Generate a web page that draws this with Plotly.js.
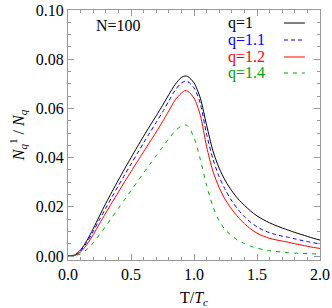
<!DOCTYPE html>
<html>
<head>
<meta charset="utf-8">
<script src="https://cdn.plot.ly/plotly-3.0.1.min.js"></script>
<style>html,body{margin:0;padding:0;background:#fff;}#chart{width:332px;height:308px;}</style>
</head>
<body>
<div id="chart"></div>
<script>
// Temperature ratio T/Tc
const T = [0,0.05,0.1,0.15,0.2,0.25,0.3,0.35,0.4,0.45,0.5,0.55,0.6,0.65,0.7,0.75,0.8,0.85,0.9,0.93,0.95,
           1.0,1.05,1.1,1.15,1.2,1.25,1.3,1.35,1.4,1.45,1.5,1.55,1.6,1.65,1.7,1.75,1.8,1.85,1.9,1.95,2.0];
// N_q^1 / N_q for each q
const q1 = [0,0.0004,0.0025,0.0063,0.0111,0.0163,0.0214,0.0262,0.0309,0.0355,0.0400,0.0444,0.0487,0.0529,0.0570,0.0612,0.0656,0.0697,0.0726,0.0732,0.0730,
            0.0704,0.0642,0.0532,0.0428,0.0357,0.0305,0.0265,0.0232,0.0206,0.0183,0.0163,0.0148,0.0135,0.0124,0.0114,0.0105,0.0096,0.0088,0.0080,0.0072,0.0065];
const q11 = [0,0.0003,0.0021,0.0056,0.0100,0.0148,0.0195,0.0241,0.0286,0.0330,0.0374,0.0417,0.0460,0.0502,0.0543,0.0585,0.0630,0.0674,0.0703,0.0711,0.0709,
             0.0684,0.0620,0.0495,0.0395,0.0322,0.0268,0.0224,0.0189,0.0160,0.0137,0.0119,0.0105,0.0095,0.0087,0.0081,0.0076,0.0070,0.0064,0.0059,0.0054,0.0049];
const q12 = [0,0.0002,0.0017,0.0047,0.0087,0.0131,0.0175,0.0218,0.0260,0.0302,0.0343,0.0384,0.0424,0.0464,0.0504,0.0546,0.0590,0.0634,0.0662,0.0672,0.0670,
             0.0642,0.0572,0.0445,0.0345,0.0278,0.0228,0.0190,0.0158,0.0132,0.0110,0.0093,0.0081,0.0072,0.0066,0.0061,0.0056,0.0050,0.0045,0.0040,0.0035,0.0031];
const q14 = [0,0.0001,0.0009,0.0027,0.0054,0.0087,0.0122,0.0158,0.0194,0.0230,0.0266,0.0302,0.0338,0.0373,0.0408,0.0443,0.0477,0.0508,0.0529,0.0533,0.0529,
             0.0482,0.0393,0.0287,0.0202,0.0142,0.0106,0.0082,0.0064,0.0051,0.0040,0.0032,0.0026,0.0022,0.0019,0.0016,0.0014,0.0012,0.0011,0.0010,0.0009,0.0008];
const seriesNames = ['q=1','q=1.1','q=1.2','q=1.4'];
const seriesData = [q1,q11,q12,q14];
const colors = ['#000000','#0000ff','#ff0000','#00a000'];
const dashes = ['solid','4px,3px','solid','4px,5px'];
const xTicks = [0,0.5,1,1.5,2];
const yTicks = [0,0.02,0.04,0.06,0.08,0.1];

const serif = 'Liberation Serif, Times New Roman, serif';
const traces = seriesData.map((y,i)=>({
  x:T, y:y, type:'scatter', mode:'lines', name:seriesNames[i],
  line:{color:colors[i], width:1, dash:dashes[i], shape:'spline', smoothing:0.8},
  showlegend:false, hoverinfo:'skip'
}));

const legY = [0.948,0.88,0.812,0.748];
const annotations = seriesNames.map((n,i)=>({
  xref:'paper', yref:'paper', x:0.627, y:legY[i], xanchor:'left', yanchor:'middle',
  text:n, showarrow:false, font:{family:serif, size:16, color:colors[i]}
}));
annotations.push({xref:'paper', yref:'paper', x:0.2, y:0.936, xanchor:'center', yanchor:'middle',
  text:'N=100', showarrow:false, font:{family:serif, size:16, color:'#000'}});
const shapes = seriesNames.map((n,i)=>({
  type:'line', xref:'paper', yref:'paper', x0:0.857, x1:0.94, y0:legY[i], y1:legY[i],
  line:{color:colors[i], width:1, dash:dashes[i]}
}));

const axisCommon = {
  showgrid:false, zeroline:false, showline:true, linecolor:'#999', linewidth:1,
  mirror:'allticks', ticks:'inside', ticklen:6, tickcolor:'#999', tickwidth:1,
  tickfont:{family:serif, size:16, color:'#000'}
};
const layout = {
  width:332, height:308,
  margin:{l:68, r:12, t:10, b:48},
  paper_bgcolor:'#fff', plot_bgcolor:'#fff',
  xaxis:Object.assign({}, axisCommon, {
    range:[0,2], tickvals:xTicks, tickformat:'.1f',
    minor:{dtick:0.1, ticklen:3, ticks:'inside', tickcolor:'#999', showgrid:false},
    title:{text:'T/<i>T</i><sub><i>c</i></sub>', font:{family:serif, size:16, color:'#000'}, standoff:9}
  }),
  yaxis:Object.assign({}, axisCommon, {
    range:[-0.0016,0.1], tickvals:yTicks, tickformat:'.2f',
    minor:{dtick:0.005, ticklen:3, ticks:'inside', tickcolor:'#999', showgrid:false},
    title:{text:'<i>N</i><sub><i>q</i></sub><sup>1</sup> / <i>N</i><sub><i>q</i></sub>', font:{family:serif, size:16, color:'#000'}, standoff:7}
  }),
  annotations:annotations, shapes:shapes, showlegend:false
};
Plotly.newPlot('chart', traces, layout, {staticPlot:true, displayModeBar:false});
</script>
</body>
</html>
